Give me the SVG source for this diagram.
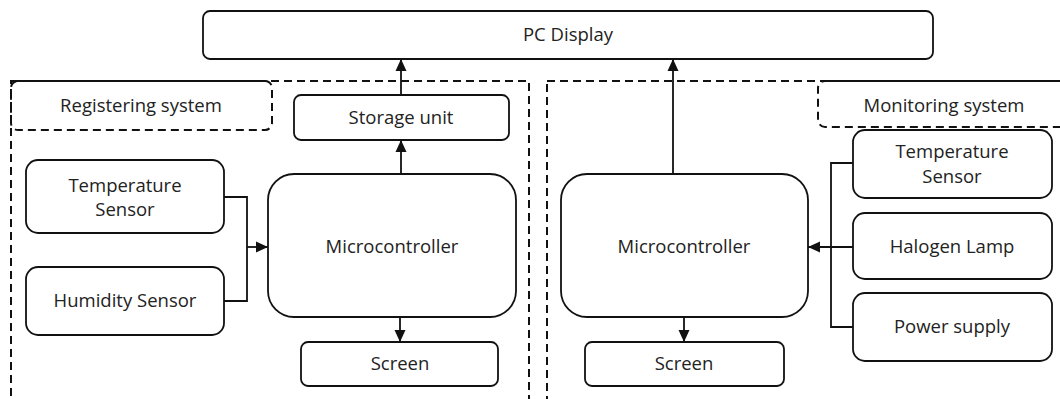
<svg xmlns="http://www.w3.org/2000/svg" width="1060" height="399" viewBox="0 0 1060 399">
  <defs>
    <style>
      .box { fill: #ffffff; stroke: #111111; stroke-width: 1.8; }
      .zone { fill: none; stroke: #111111; stroke-width: 2; stroke-dasharray: 8 5; }
      .wire { fill: none; stroke: #111111; stroke-width: 1.8; }
      .lbl { font-family: "Open Sans", "Noto Sans", "Liberation Sans", sans-serif; font-size: 18.5px; fill: #222222; text-anchor: middle; }
    </style>
    <marker id="arrow" viewBox="0 0 12 12" refX="12" refY="6" markerWidth="12" markerHeight="12" markerUnits="userSpaceOnUse" orient="auto">
      <path d="M0,0.5 L12,6 L0,11.5 Z" fill="#111111"/>
    </marker>
  </defs>

  <rect width="1060" height="399" fill="#ffffff"/>

  <!-- system zones -->
  <g id="zones">
    <rect class="zone" x="11" y="81" width="518" height="400"/>
    <rect class="zone" x="547" y="81" width="600" height="400"/>
  </g>

  <g id="registering-system">
    <rect class="zone" x="11" y="81" width="261" height="49" rx="7"/>
    <text class="lbl" x="141" y="112">Registering system</text>
  </g>

  <g id="monitoring-system">
    <rect class="zone" x="818" y="81" width="300" height="46" rx="7"/>
    <text class="lbl" x="944" y="112">Monitoring system</text>
  </g>

  <!-- connectors -->
  <g id="connectors">
    <line class="wire" x1="401" y1="95" x2="401" y2="59" marker-end="url(#arrow)"/>
    <line class="wire" x1="401" y1="174" x2="401" y2="140" marker-end="url(#arrow)"/>
    <line class="wire" x1="400" y1="317" x2="400" y2="342" marker-end="url(#arrow)"/>
    <path class="wire" d="M224,197 H247 V301 H224"/>
    <line class="wire" x1="247" y1="247" x2="268" y2="247" marker-end="url(#arrow)"/>
    <line class="wire" x1="673" y1="174" x2="673" y2="59" marker-end="url(#arrow)"/>
    <line class="wire" x1="684" y1="317" x2="684" y2="342" marker-end="url(#arrow)"/>
    <path class="wire" d="M853,163 H831 V327 H853"/>
    <line class="wire" x1="853" y1="247" x2="808" y2="247" marker-end="url(#arrow)"/>
  </g>

  <g id="pc-display">
    <rect class="box" x="203" y="11" width="730" height="48" rx="7"/>
    <text class="lbl" x="568" y="41">PC Display</text>
  </g>

  <g id="storage-unit">
    <rect class="box" x="294" y="95" width="215" height="45" rx="7"/>
    <text class="lbl" x="401" y="124">Storage unit</text>
  </g>

  <g id="temperature-sensor-left">
    <rect class="box" x="26" y="160" width="198" height="73" rx="12"/>
    <text class="lbl" x="125" y="192">Temperature</text>
    <text class="lbl" x="125" y="216">Sensor</text>
  </g>

  <g id="humidity-sensor">
    <rect class="box" x="26" y="267" width="198" height="68" rx="12"/>
    <text class="lbl" x="125" y="307">Humidity Sensor</text>
  </g>

  <g id="microcontroller-left">
    <rect class="box" x="268" y="174" width="248" height="143" rx="26"/>
    <text class="lbl" x="392" y="253">Microcontroller</text>
  </g>

  <g id="screen-left">
    <rect class="box" x="301" y="342" width="197" height="44" rx="7"/>
    <text class="lbl" x="400" y="370">Screen</text>
  </g>

  <g id="microcontroller-right">
    <rect class="box" x="561" y="174" width="247" height="143" rx="26"/>
    <text class="lbl" x="684" y="253">Microcontroller</text>
  </g>

  <g id="screen-right">
    <rect class="box" x="585" y="342" width="199" height="44" rx="7"/>
    <text class="lbl" x="684" y="370">Screen</text>
  </g>

  <g id="temperature-sensor-right">
    <rect class="box" x="853" y="130" width="199" height="68" rx="12"/>
    <text class="lbl" x="952" y="158">Temperature</text>
    <text class="lbl" x="952" y="183">Sensor</text>
  </g>

  <g id="halogen-lamp">
    <rect class="box" x="853" y="213" width="199" height="66" rx="12"/>
    <text class="lbl" x="952" y="253">Halogen Lamp</text>
  </g>

  <g id="power-supply">
    <rect class="box" x="853" y="293" width="199" height="68" rx="12"/>
    <text class="lbl" x="952" y="333">Power supply</text>
  </g>
</svg>
